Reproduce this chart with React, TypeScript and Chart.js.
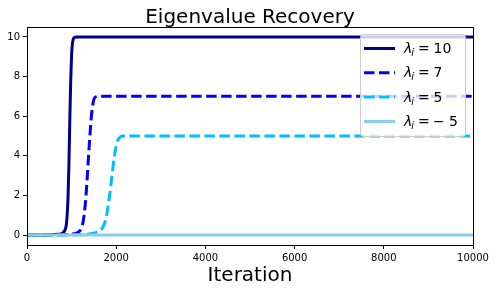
import React, { useEffect, useRef } from 'react';
import { Chart, registerables } from 'chart.js';

Chart.register(...registerables);

const TITLE = 'Eigenvalue Recovery';
const X_LABEL = 'Iteration';
const X_TICKS = [0, 2000, 4000, 6000, 8000, 10000];
const Y_TICKS = [0, 2, 4, 6, 8, 10];

const LABEL_VALUES = ['10', '7', '5', '−5'];
const COLORS = ['#00008B', '#0000FF', '#00BFFF', '#87CEEB'];
const DASHED = [false, true, true, false];

const ITER_10 = [0, 400, 700, 800, 850, 880, 900, 920, 940, 960, 980, 1000, 1020, 1050, 1100, 10000];
const VAL_10 = [0, 0.01, 0.04, 0.1, 0.25, 0.5, 1.0, 1.9, 3.6, 5.8, 7.8, 9.1, 9.7, 9.95, 10, 10];

const ITER_7 = [0, 600, 1000, 1150, 1220, 1260, 1290, 1320, 1350, 1380, 1410, 1440, 1470, 1500, 1550, 1600, 10000];
const VAL_7 = [0, 0.01, 0.05, 0.15, 0.35, 0.7, 1.2, 1.9, 2.9, 4.0, 5.0, 5.9, 6.5, 6.85, 6.98, 7, 7];

const ITER_5 = [0, 800, 1300, 1500, 1620, 1700, 1760, 1800, 1840, 1880, 1920, 1960, 2000, 2040, 2090, 2150, 2200, 10000];
const VAL_5 = [0, 0.01, 0.04, 0.1, 0.2, 0.4, 0.75, 1.2, 1.8, 2.5, 3.3, 4.0, 4.5, 4.8, 4.95, 5, 5, 5];

const ITER_M5 = [0, 10000];
const VAL_M5 = [0, 0];

const SERIES_ITERS = [ITER_10, ITER_7, ITER_5, ITER_M5];
const SERIES_VALS = [VAL_10, VAL_7, VAL_5, VAL_M5];

const FONT = '"DejaVu Sans", sans-serif';

const decorPlugin = {
  id: 'decor',
  afterDatasetsDraw(chart: any) {
    const { ctx, chartArea } = chart;
    const { left, right, top, bottom } = chartArea;
    ctx.save();
    // frame (spines)
    ctx.strokeStyle = '#000';
    ctx.lineWidth = 1;
    ctx.setLineDash([]);
    ctx.strokeRect(Math.round(left) + 0.5, Math.round(top) + 0.5, Math.round(right) - Math.round(left), Math.round(bottom) - Math.round(top));

    // title
    ctx.fillStyle = '#000';
    ctx.font = `20px ${FONT}`;
    ctx.textAlign = 'center';
    ctx.textBaseline = 'alphabetic';
    ctx.fillText(TITLE, (left + right) / 2, 22.5);

    // legend
    const bx = 360.5, by = 34.5, bw = 105, bh = 102;
    ctx.beginPath();
    (ctx as any).roundRect(bx, by, bw, bh, 3);
    ctx.fillStyle = 'rgba(255,255,255,0.8)';
    ctx.fill();
    ctx.strokeStyle = '#cccccc';
    ctx.lineWidth = 1;
    ctx.stroke();

    ctx.textAlign = 'left';
    ctx.textBaseline = 'alphabetic';
    LABEL_VALUES.forEach((lab, i) => {
      const cy = 48.5 + i * 24.3;
      ctx.beginPath();
      ctx.strokeStyle = COLORS[i];
      ctx.lineWidth = 3;
      ctx.lineCap = 'butt';
      ctx.setLineDash(DASHED[i] ? [10.5, 4.5] : []);
      ctx.moveTo(364, cy);
      ctx.lineTo(395, cy);
      ctx.stroke();
      ctx.setLineDash([]);

      const base = cy + 4.5;
      ctx.fillStyle = '#000';
      ctx.font = `italic 14px ${FONT}`;
      ctx.fillText('λ', 404, base);
      const lw = ctx.measureText('λ').width;
      ctx.font = `italic 9.8px ${FONT}`;
      ctx.fillText('i', 404 + lw - 1, base + 3);
      ctx.font = `14px ${FONT}`;
      ctx.fillText('=', 418, base);
      if (lab.startsWith('−')) {
        ctx.fillText('−', 433, base);
        ctx.fillText(lab.slice(1), 449, base);
      } else {
        ctx.fillText(lab, 433.5, base);
      }
    });
    ctx.restore();
  },
};

export default function App() {
  const ref = useRef<HTMLCanvasElement | null>(null);
  useEffect(() => {
    if (!ref.current) return;
    const datasets = SERIES_VALS.map((vals, i) => ({
      label: `λ_i = ${LABEL_VALUES[i]}`,
      data: vals.map((v, j) => ({ x: SERIES_ITERS[i][j], y: v })),
      borderColor: COLORS[i],
      backgroundColor: COLORS[i],
      borderWidth: 3,
      borderDash: DASHED[i] ? [10.5, 4.5] : [],
      pointRadius: 0,
      fill: false,
      cubicInterpolationMode: 'monotone' as const,
      order: 3 - i,
    }));
    const chart = new Chart(ref.current, {
      type: 'line',
      data: { datasets },
      options: {
        animation: false,
        responsive: false,
        devicePixelRatio: 1,
        layout: { padding: { left: 0, right: 23, top: 27, bottom: 0 } },
        plugins: { legend: { display: false }, tooltip: { enabled: false }, title: { display: false } },
        scales: {
          x: {
            type: 'linear',
            min: 0,
            max: 10000,
            afterBuildTicks: (s: any) => { s.ticks = X_TICKS.map((v) => ({ value: v })); },
            afterFit: (s: any) => { s.height = 47; },
            ticks: { color: '#000', font: { family: FONT, size: 10 }, padding: 3, maxRotation: 0, autoSkip: false, callback: (v: any) => String(v) },
            grid: { drawOnChartArea: false, drawTicks: true, tickLength: 4, color: '#000', lineWidth: 1 },
            border: { display: false },
            title: { display: true, text: X_LABEL, color: '#000', font: { family: FONT, size: 20 }, padding: { top: 0, bottom: 4 } },
          },
          y: {
            type: 'linear',
            min: -0.5,
            max: 10.5,
            afterBuildTicks: (s: any) => { s.ticks = Y_TICKS.map((v) => ({ value: v })); },
            afterFit: (s: any) => { s.width = 27; },
            ticks: { color: '#000', font: { family: FONT, size: 10 }, padding: 3, autoSkip: false, callback: (v: any) => String(v) },
            grid: { drawOnChartArea: false, drawTicks: true, tickLength: 4, color: '#000', lineWidth: 1 },
            border: { display: false },
          },
        },
      },
      plugins: [decorPlugin],
    });
    return () => chart.destroy();
  }, []);
  return (
    <div style={{ position: 'fixed', left: 0, top: 0, width: 496, height: 292, background: '#fff' }}>
      <canvas ref={ref} width={496} height={292} style={{ display: 'block', width: 496, height: 292 }} />
    </div>
  );
}
